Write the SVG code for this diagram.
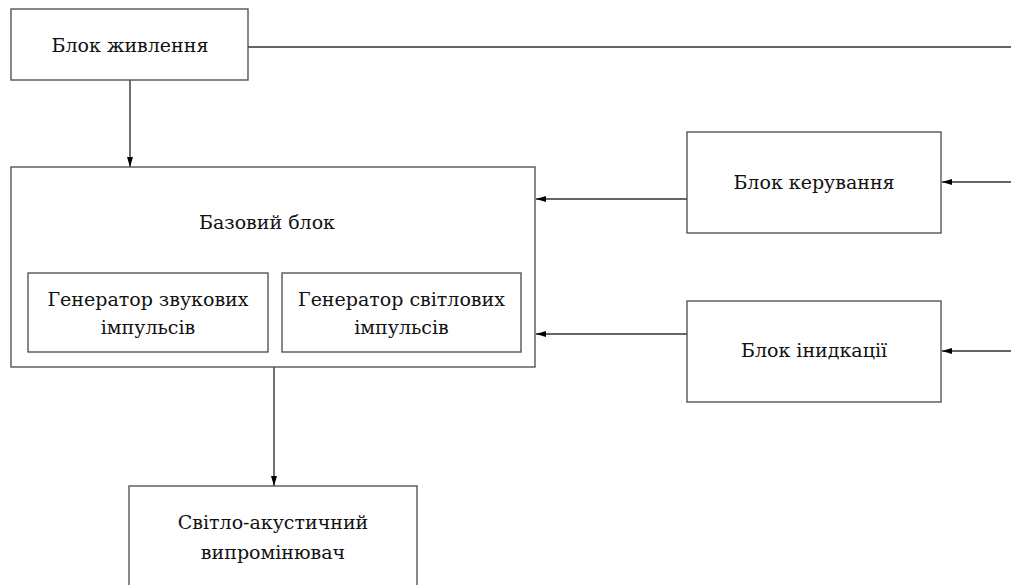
<svg xmlns="http://www.w3.org/2000/svg" width="1011" height="585" viewBox="0 0 1011 585">
<style>
.box{fill:#fff;stroke:#555;stroke-width:1.4}
.ln{fill:none;stroke:#333;stroke-width:1.4}
.t{font-family:'DejaVu Serif',serif;font-size:19px;fill:#111;text-anchor:middle}
</style>
<defs>
<marker id="ah" viewBox="0 0 10 6" refX="10" refY="3" markerWidth="10" markerHeight="6" markerUnits="userSpaceOnUse" orient="auto">
<path d="M0,0 L10,3 L0,6 Z" fill="#000"/>
</marker>
</defs>
<rect width="1011" height="585" fill="#fff"/>
<g id="connectors">
<line class="ln" x1="248" y1="47" x2="1011" y2="47"/>
<line class="ln" x1="130" y1="80" x2="130" y2="167" marker-end="url(#ah)"/>
<line class="ln" x1="687" y1="199" x2="536" y2="199" marker-end="url(#ah)"/>
<line class="ln" x1="687" y1="334" x2="536" y2="334" marker-end="url(#ah)"/>
<line class="ln" x1="1011" y1="182" x2="942" y2="182" marker-end="url(#ah)"/>
<line class="ln" x1="1011" y1="351" x2="942" y2="351" marker-end="url(#ah)"/>
<line class="ln" x1="274" y1="367" x2="274" y2="486" marker-end="url(#ah)"/>
</g>
<g class="t">
<g id="power">
<rect class="box" x="11" y="9" width="237" height="71"/>
<text x="130" y="52">Блок живлення</text>
</g>
<g id="base">
<rect class="box" x="11" y="167" width="524" height="200"/>
<text x="267" y="229">Базовий блок</text>
</g>
<g id="gen-sound">
<rect class="box" x="28" y="273" width="240" height="79"/>
<text x="148" y="306">Генератор звукових</text>
<text x="148" y="334">імпульсів</text>
</g>
<g id="gen-light">
<rect class="box" x="282" y="273" width="239" height="79"/>
<text x="401.5" y="306">Генератор світлових</text>
<text x="401.5" y="334">імпульсів</text>
</g>
<g id="control">
<rect class="box" x="687" y="132" width="254" height="101"/>
<text x="814" y="189">Блок керування</text>
</g>
<g id="indication">
<rect class="box" x="687" y="301" width="254" height="101"/>
<text x="814" y="357">Блок інидкації</text>
</g>
<g id="emitter">
<rect class="box" x="129" y="486" width="288" height="110"/>
<text x="273" y="529">Світло-акустичний</text>
<text x="273" y="559">випромінювач</text>
</g>
</g>
</svg>
